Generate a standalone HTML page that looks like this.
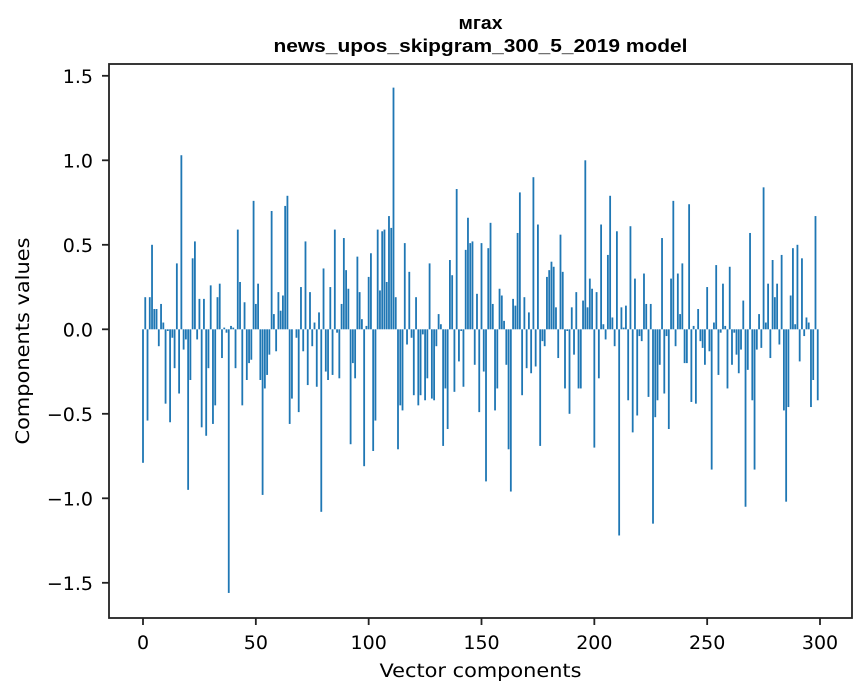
<!DOCTYPE html>
<html><head><meta charset="utf-8"><style>
html,body{margin:0;padding:0;background:#fff;}
svg{display:block;font-family:"DejaVu Sans","Liberation Sans",sans-serif;}
</style></head><body>
<svg id="chart" width="867" height="696" viewBox="0 0 867 696" xmlns="http://www.w3.org/2000/svg">
<rect width="867" height="696" fill="#fff"/>
<text x="480.5" y="29" text-anchor="middle" font-family="Liberation Sans, sans-serif" font-weight="bold" font-size="18" textLength="44" lengthAdjust="spacingAndGlyphs" fill="#000">мгах</text>
<text x="480.5" y="52" text-anchor="middle" font-family="Liberation Sans, sans-serif" font-weight="bold" font-size="18" textLength="414" lengthAdjust="spacingAndGlyphs" fill="#000">news_upos_skipgram_300_5_2019 model</text>
<g id="bars"></g>
<g id="xticks"></g>
<g id="yticks"></g>
<rect x="109" y="64" width="743" height="554" fill="none" stroke="#222" stroke-width="1.8"/>
<text x="480.5" y="677" text-anchor="middle" font-size="19" textLength="202" lengthAdjust="spacingAndGlyphs" fill="#000">Vector components</text>
<text transform="translate(29,341) rotate(-90)" text-anchor="middle" font-size="19" textLength="207" lengthAdjust="spacingAndGlyphs" fill="#000">Components values</text>
</svg>
<script>
const values = [
-0.79,0.19,-0.54,0.19,0.50,0.12,0.12,-0.10,0.15,0.04,
-0.44,-0.01,-0.55,-0.05,-0.23,0.39,-0.38,1.03,-0.12,-0.06,
-0.95,-0.30,0.42,0.52,-0.06,0.18,-0.58,0.18,-0.63,-0.23,
0.26,-0.56,-0.45,0.19,0.27,-0.17,0.01,-0.02,-1.56,0.02,
0.01,-0.23,0.59,0.28,-0.45,0.16,-0.30,-0.20,-0.18,0.76,
0.15,0.27,-0.30,-0.98,-0.35,-0.27,-0.15,0.70,0.09,-0.13,
0.22,0.11,0.20,0.73,0.79,-0.56,-0.41,0.00,-0.05,-0.49,
0.25,-0.13,0.52,-0.33,0.22,-0.10,0.04,-0.34,0.10,-1.08,
0.36,-0.25,-0.30,0.25,-0.27,0.59,-0.02,-0.29,0.15,0.54,
0.35,0.24,-0.68,-0.20,-0.29,0.43,0.22,0.06,-0.81,0.02,
0.31,0.45,-0.72,-0.54,0.59,0.23,0.58,0.59,0.28,0.67,
0.60,1.43,0.19,-0.71,-0.45,-0.48,0.51,-0.09,0.34,-0.05,
-0.39,0.19,-0.45,-0.39,-0.03,-0.42,-0.29,0.39,-0.41,-0.42,
-0.10,0.09,0.03,-0.69,-0.35,-0.59,0.41,0.32,-0.37,0.83,
-0.19,-0.01,-0.34,0.47,0.66,0.51,0.52,-0.21,0.21,-0.49,
0.51,-0.25,-0.90,0.48,0.63,0.15,-0.48,-0.35,0.24,0.20,
0.05,-0.21,-0.71,-0.96,0.18,0.14,0.57,0.81,-0.39,0.19,
-0.23,0.10,-0.26,0.90,-0.22,0.62,-0.69,-0.07,-0.10,0.31,
0.35,0.40,0.37,0.13,-0.17,0.56,0.34,-0.35,-0.01,-0.50,
0.13,-0.15,0.22,-0.35,-0.35,0.17,1.00,0.13,0.30,0.24,
-0.70,0.22,-0.29,0.62,0.03,-0.06,0.44,0.79,0.07,-0.10,
0.58,-1.22,0.13,0.01,0.14,-0.42,0.61,-0.61,0.30,-0.51,
-0.04,-0.07,0.33,0.15,-0.40,0.15,-1.15,-0.52,-0.42,-0.21,
0.54,-0.38,-0.04,-0.59,0.30,0.76,-0.10,0.33,0.09,0.39,
-0.20,-0.20,0.74,-0.43,0.02,-0.44,0.12,-0.07,-0.11,-0.21,
0.25,-0.13,-0.83,0.04,0.38,-0.27,-0.02,0.27,0.02,-0.35,
0.37,-0.21,-0.02,-0.15,-0.26,-0.12,0.17,-1.05,-0.24,0.57,
-0.42,-0.83,-0.12,0.09,-0.11,0.84,0.04,0.27,-0.17,0.41,
0.19,0.27,-0.09,0.44,-0.48,-1.02,-0.46,0.20,0.48,0.03,
0.50,-0.19,0.42,-0.04,0.07,0.04,-0.46,-0.30,0.67,-0.42
];
const xTickValues = [0,50,100,150,200,250,300];
const yTickValues = [-1.5,-1.0,-0.5,0.0,0.5,1.0,1.5];

const NS = "http://www.w3.org/2000/svg";
function xScale(v){ return 143 + v * (677/300); }
function yScale(v){ return 329.3 - v * 169; }

const barsG = document.getElementById('bars');
const bw = 0.8 * (677/300);
values.forEach((v, i) => {
  const r = document.createElementNS(NS, 'rect');
  const y0 = yScale(0), y1 = yScale(v);
  r.setAttribute('x', xScale(i) - bw/2);
  r.setAttribute('y', Math.min(y0, y1));
  r.setAttribute('width', bw);
  r.setAttribute('height', Math.abs(y1 - y0));
  r.setAttribute('fill', '#1f77b4');
  
  
  barsG.appendChild(r);
});

const xg = document.getElementById('xticks');
xTickValues.forEach(t => {
  const x = xScale(t);
  const l = document.createElementNS(NS, 'line');
  l.setAttribute('x1', x); l.setAttribute('x2', x);
  l.setAttribute('y1', 618); l.setAttribute('y2', 625);
  l.setAttribute('stroke', '#222'); l.setAttribute('stroke-width', '1.8');
  
  
  xg.appendChild(l);
  const tx = document.createElementNS(NS, 'text');
  tx.setAttribute('x', x); tx.setAttribute('y', 649);
  tx.setAttribute('text-anchor', 'middle'); tx.setAttribute('font-size', '19');
  tx.textContent = String(t);
  
  
  xg.appendChild(tx);
});

const yg = document.getElementById('yticks');
yTickValues.forEach(t => {
  const y = yScale(t);
  const l = document.createElementNS(NS, 'line');
  l.setAttribute('x1', 102); l.setAttribute('x2', 109);
  l.setAttribute('y1', y); l.setAttribute('y2', y);
  l.setAttribute('stroke', '#222'); l.setAttribute('stroke-width', '1.8');
  
  
  yg.appendChild(l);
  const tx = document.createElementNS(NS, 'text');
  tx.setAttribute('x', 93); tx.setAttribute('y', y + 7);
  tx.setAttribute('text-anchor', 'end'); tx.setAttribute('font-size', '19');
  tx.textContent = (t < 0 ? '\u2212' : '') + Math.abs(t).toFixed(1);
  
  
  yg.appendChild(tx);
});
</script>
</body></html>
